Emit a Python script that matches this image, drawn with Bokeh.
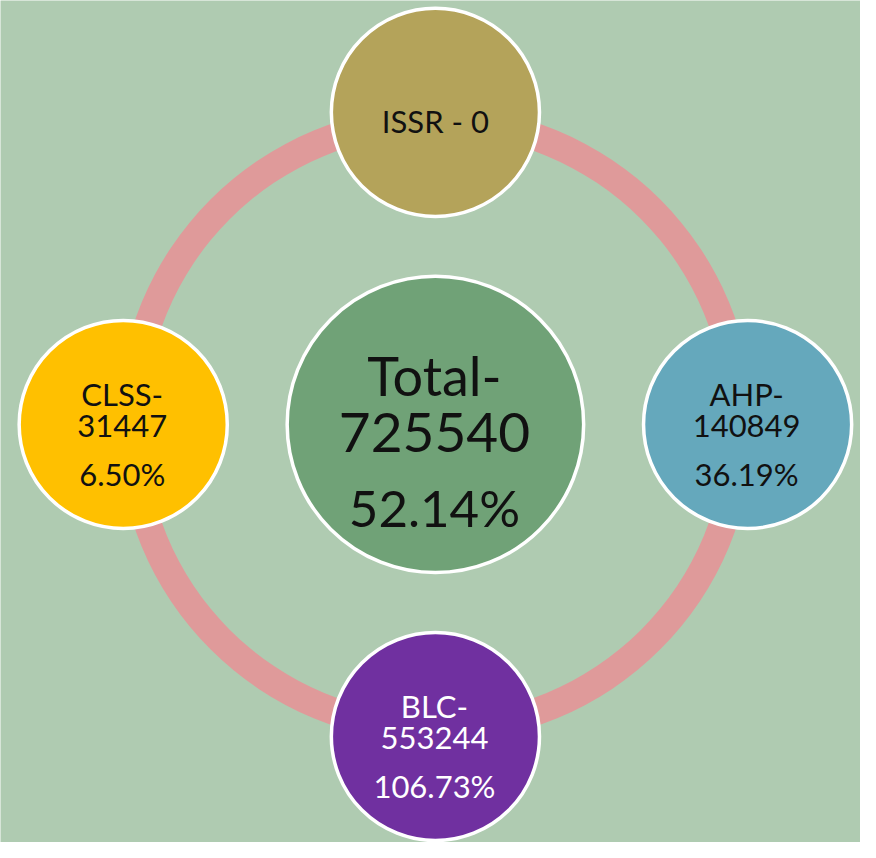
import math
from bokeh.plotting import figure
from bokeh.models import Range1d, ColumnDataSource
from bokeh.core.properties import value
from bokeh.embed import file_html
from bokeh.resources import INLINE

# ---- data ----
categories = ["ISSR", "AHP", "BLC", "CLSS"]
amounts = [0, 140849, 553244, 31447]
percents = [None, 36.19, 106.73, 6.50]
total_label = "Total"
total_amount = 725540
total_percent = 52.14

# ---- style ----
BG = "#AFCBB1"
RING = "#DF9A9A"
CENTER_COLOR = "#70A277"
colors = ["#B4A35A", "#65A8BC", "#7030A0", "#FFC000"]
text_colors = ["#111111", "#111111", "#FFFFFF", "#111111"]
angles_deg = [-90, 0, 90, 180]   # screen angles, y pointing down
FONT = value("Lato")

W, H = 860, 842
p = figure(width=W, height=H, output_backend="svg", toolbar_location=None,
           x_range=Range1d(0, 876), y_range=Range1d(858, 0),
           min_border=0, background_fill_color=BG, border_fill_color=BG,
           outline_line_color=None)
p.axis.visible = False
p.grid.visible = False

cx, cy = 443, 432
R = 318
r_small = 106
r_big = 151

# ring
p.annulus(x=[cx], y=[cy], inner_radius=296, outer_radius=324,
          fill_color=RING, line_color=None)

# satellites
xs = [cx + R * math.cos(math.radians(a)) for a in angles_deg]
ys = [cy + R * math.sin(math.radians(a)) for a in angles_deg]
src = ColumnDataSource(dict(x=xs, y=ys, color=colors))
p.circle(x="x", y="y", radius=r_small, fill_color="color", line_color="white",
         line_width=3.5, source=src)

# center
p.circle(x=[cx], y=[cy], radius=r_big, fill_color=CENTER_COLOR,
         line_color="white", line_width=3.5)

# labels of satellites
for cat, amt, pct, x, y, tc in zip(categories, amounts, percents, xs, ys, text_colors):
    if pct is None:
        p.text(x=[x], y=[y + 9], text=[f"{cat} - {amt}"], text_align="center",
               text_baseline="alphabetic", text_font=FONT, text_font_size="31px",
               text_color=tc)
    else:
        lines = [f"{cat}-", f"{amt}", f"{pct:.2f}%"]
        offs = [-31, 2, 50]
        for t, o in zip(lines, offs):
            p.text(x=[x - 1], y=[y + o], text=[t], text_align="center",
                   text_baseline="alphabetic", text_font=FONT,
                   text_font_size="31px", text_color=tc)

# center label
for t, o, fs in zip([f"{total_label}-", f"{total_amount}", f"{total_percent:.2f}%"],
                    [-50, 8, 85], ["54px", "55px", "51px"]):
    p.text(x=[cx - 1], y=[cy + o], text=[t], text_align="center",
           text_baseline="alphabetic", text_font=FONT, text_font_size=fs,
           text_color="#111111")

open("out.html", "w").write(file_html(p, INLINE))
